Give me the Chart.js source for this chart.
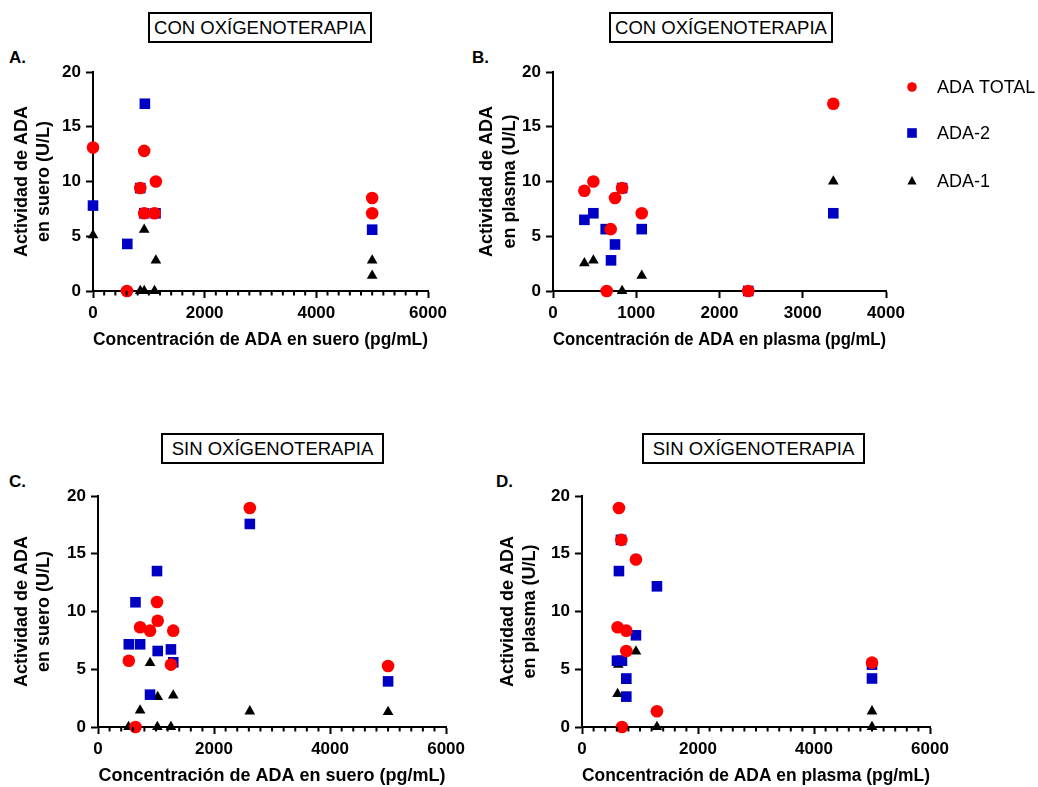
<!DOCTYPE html>
<html>
<head>
<meta charset="utf-8">
<script src="https://cdn.jsdelivr.net/npm/chart.js@4/dist/chart.umd.min.js"></script>
<style>
  body { margin: 0; background: #fff; font-family: "Liberation Sans", Arial, sans-serif; }
  #page { position: relative; width: 1038px; height: 787px; overflow: hidden; }
  canvas { position: absolute; }
  .box { position: absolute; box-sizing: border-box; border: 2px solid #000; height: 31px;
         display: flex; align-items: center; justify-content: center; font-size: 18.5px; color: #000; }
  .letter { position: absolute; font-weight: bold; font-size: 17px; color: #000; }
</style>
</head>
<body>
<div id="page">
  <div class="box" style="left:148px; top:12px; width:224px;">CON OXÍGENOTERAPIA</div>
  <div class="box" style="left:609px; top:12px; width:224px;">CON OXÍGENOTERAPIA</div>
  <div class="box" style="left:161px; top:433px; width:223px;">SIN OXÍGENOTERAPIA</div>
  <div class="box" style="left:642px; top:433px; width:223px;">SIN OXÍGENOTERAPIA</div>
  <div class="letter" style="left:9px; top:48px;">A.</div>
  <div class="letter" style="left:472px; top:48px;">B.</div>
  <div class="letter" style="left:9px; top:472px;">C.</div>
  <div class="letter" style="left:496px; top:472px;">D.</div>
  <canvas id="chartA" width="460" height="310" style="left:0px; top:50px;"></canvas>
  <canvas id="chartB" width="568" height="310" style="left:470px; top:50px;"></canvas>
  <canvas id="chartC" width="470" height="313" style="left:0px; top:474px;"></canvas>
  <canvas id="chartD" width="480" height="313" style="left:480px; top:474px;"></canvas>
</div>
<script>
// series names
const seriesNames = ['ADA TOTAL', 'ADA-2', 'ADA-1'];

// A. con oxigenoterapia, suero
const aTotalX = [0, 608, 917, 846, 917, 1102, 1126, 5000, 5000];
const aTotalY = [13.1, 0, 12.8, 9.4, 7.1, 7.1, 10.0, 8.5, 7.1];
const a2X = [0, 614, 929, 846, 917, 1120, 5000];
const a2Y = [7.8, 4.3, 17.1, 9.4, 7.1, 7.1, 5.6];
const a1X = [0, 917, 1126, 846, 917, 1102, 5000, 5000];
const a1Y = [5.1, 5.6, 2.8, 0, 0, 0, 2.8, 1.4];

// B. con oxigenoterapia, plasma
const bTotalX = [377, 485, 745, 693, 645, 830, 1066, 2345, 3367];
const bTotalY = [9.15, 10.0, 8.5, 5.65, 0, 9.4, 7.1, 0, 17.1];
const b2X = [377, 485, 633, 745, 697, 830, 1066, 2345, 3367];
const b2Y = [6.5, 7.1, 5.65, 4.25, 2.8, 9.4, 5.65, 0, 7.1];
const b1X = [377, 485, 645, 830, 1066, 3367];
const b1Y = [2.55, 2.8, 0, 0, 1.4, 10.0];

// C. sin oxigenoterapia, suero
const cTotalX = [531, 646, 726, 897, 1017, 1029, 1257, 1297, 2617, 5000];
const cTotalY = [5.74, 0, 8.63, 8.34, 10.82, 9.2, 5.4, 8.34, 18.96, 5.28];
const c2X = [531, 726, 646, 1017, 1029, 897, 1257, 1297, 2617, 5000];
const c2Y = [7.16, 7.16, 10.8, 13.5, 6.58, 2.8, 6.72, 5.6, 17.58, 3.95];
const c1X = [526, 726, 897, 1029, 1023, 1257, 1297, 2617, 5000];
const c1Y = [0, 1.44, 5.54, 2.6, 0, 0, 2.74, 1.36, 1.3];

// D. sin oxigenoterapia, plasma
const dTotalX = [637, 678, 930, 614, 764, 764, 689, 1292, 5000];
const dTotalY = [18.96, 16.2, 14.5, 8.63, 8.34, 6.58, 0, 1.36, 5.57];
const d2X = [672, 637, 1292, 930, 603, 689, 764, 764, 5000, 5000];
const d2Y = [16.2, 13.5, 12.18, 7.94, 5.74, 5.74, 4.2, 2.63, 5.4, 4.2];
const d1X = [626, 614, 764, 930, 1292, 5000, 5000];
const d1Y = [5.4, 2.86, 4.0, 6.55, 0, 1.36, 0];

const yTicks = [0, 5, 10, 15, 20];

const FONT = '"Liberation Sans", Arial, sans-serif';
const RED = '#ff0000', BLUE = '#0000c4', BLACK = '#000000';

function pts(xs, ys) {
  return xs.map((x, i) => ({x: x, y: ys[i]}));
}

// small ticks between the labelled ones on the x axis
const minorTicks = {
  id: 'minorTicks',
  afterDraw(chart, args, opts) {
    if (!opts.step) return;
    const x = chart.scales.x, ctx = chart.ctx;
    const y0 = chart.chartArea.bottom;
    ctx.save();
    ctx.strokeStyle = '#000';
    ctx.lineWidth = 2;
    for (let v = opts.step; v < x.max; v += opts.step) {
      if (v % opts.major === 0) continue;
      const px = x.getPixelForValue(v);
      ctx.beginPath();
      ctx.moveTo(px, y0);
      ctx.lineTo(px, y0 + 4.5);
      ctx.stroke();
    }
    ctx.restore();
  }
};

// legend drawn to the right of panel B
const sideLegend = {
  id: 'sideLegend',
  afterDraw(chart, args, opts) {
    if (!opts.show) return;
    const ctx = chart.ctx;
    const colors = [RED, BLUE, BLACK];
    const ys = [37, 83, 131];
    ctx.save();
    seriesNames.forEach((name, i) => {
      const cx = 442, cy = ys[i];
      ctx.fillStyle = colors[i];
      ctx.beginPath();
      if (i === 0) {
        ctx.arc(cx, cy, 4.8, 0, Math.PI * 2);
      } else if (i === 1) {
        ctx.rect(cx - 4.8, cy - 4.8, 9.6, 9.6);
      } else {
        ctx.moveTo(cx, cy - 5);
        ctx.lineTo(cx + 4.6, cy + 3.5);
        ctx.lineTo(cx - 4.6, cy + 3.5);
        ctx.closePath();
      }
      ctx.fill();
      ctx.fillStyle = '#000';
      ctx.font = '18px ' + FONT;
      ctx.textBaseline = 'middle';
      ctx.fillText(name, 467, cy + 1);
    });
    ctx.restore();
  }
};

function makePanel(id, cfg) {
  const canvas = document.getElementById(id);
  const H = canvas.height;
  return new Chart(canvas, {
    type: 'scatter',
    data: {
      datasets: [
        {label: seriesNames[0], data: pts(cfg.tx, cfg.ty), pointStyle: 'circle', pointRadius: 6.3,
         backgroundColor: RED, borderColor: RED, borderWidth: 0, clip: false},
        {label: seriesNames[1], data: pts(cfg.bx, cfg.by), pointStyle: 'rect', pointRadius: 7.5,
         backgroundColor: BLUE, borderColor: BLUE, borderWidth: 0, clip: false},
        {label: seriesNames[2], data: pts(cfg.kx, cfg.ky), pointStyle: 'triangle', pointRadius: 6.2,
         backgroundColor: BLACK, borderColor: BLACK, borderWidth: 0, clip: false}
      ]
    },
    options: {
      responsive: false,
      animation: false,
      events: [],
      layout: {padding: {left: 0, top: cfg.top, right: cfg.right, bottom: 0}},
      plugins: {
        legend: {display: false},
        tooltip: {enabled: false},
        minorTicks: {step: cfg.minor, major: cfg.step},
        sideLegend: {show: !!cfg.legend}
      },
      scales: {
        x: {
          type: 'linear', min: 0, max: cfg.xMax,
          afterFit: s => { s.height = H - cfg.bottom; },
          ticks: {stepSize: cfg.step, color: '#000', padding: 5, maxRotation: 0,
                  callback: v => String(v),
                  font: {family: FONT, size: 17, weight: 'bold'}},
          grid: {drawOnChartArea: false, drawTicks: true, tickLength: 7, tickWidth: 2, tickColor: '#000'},
          border: {display: true, color: '#000', width: 2},
          title: {display: true, text: cfg.xTitle, color: '#000',
                  font: {family: FONT, size: 18, weight: 'bold', lineHeight: 1.2},
                  padding: {top: 0, bottom: cfg.xTitlePad}}
        },
        y: {
          type: 'linear', min: 0, max: 20,
          afterFit: s => { s.width = cfg.left; },
          afterBuildTicks: s => { s.ticks = yTicks.map(v => ({value: v})); },
          ticks: {color: '#000', padding: 5, callback: v => String(v),
                  font: {family: FONT, size: 17, weight: 'bold'}},
          grid: {drawOnChartArea: false, drawTicks: true, tickLength: 7, tickWidth: 2, tickColor: '#000'},
          border: {display: true, color: '#000', width: 2},
          title: {display: true, text: cfg.yTitle, color: '#000',
                  font: {family: FONT, size: 18, weight: 'bold', lineHeight: 1.24},
                  padding: {top: cfg.yTitlePad, bottom: 0}}
        }
      }
    },
    plugins: [minorTicks, sideLegend]
  });
}

makePanel('chartA', {
  tx: aTotalX, ty: aTotalY, bx: a2X, by: a2Y, kx: a1X, ky: a1Y,
  xMax: 6000, step: 2000, minor: 200,
  left: 93, top: 22, right: 32, bottom: 241,
  xTitle: 'Concentración de ADA en suero (pg/mL)', xTitlePad: 9,
  yTitle: ['Actividad de ADA', 'en suero (U/L)'], yTitlePad: 10.5
});

makePanel('chartB', {
  tx: bTotalX, ty: bTotalY, bx: b2X, by: b2Y, kx: b1X, ky: b1Y,
  xMax: 4000, step: 1000, minor: 0,
  left: 83, top: 22, right: 152, bottom: 241,
  xTitle: 'Concentración de ADA en plasma (pg/mL)', xTitlePad: 9,
  yTitle: ['Actividad de ADA', 'en plasma (U/L)'], yTitlePad: 6.3,
  legend: true
});

makePanel('chartC', {
  tx: cTotalX, ty: cTotalY, bx: c2X, by: c2Y, kx: c1X, ky: c1Y,
  xMax: 6000, step: 2000, minor: 200,
  left: 98, top: 22, right: 22, bottom: 253,
  xTitle: 'Concentración de ADA en suero (pg/mL)', xTitlePad: 0,
  yTitle: ['Actividad de ADA', 'en suero (U/L)'], yTitlePad: 10.5
});

makePanel('chartD', {
  tx: dTotalX, ty: dTotalY, bx: d2X, by: d2Y, kx: d1X, ky: d1Y,
  xMax: 6000, step: 2000, minor: 200,
  left: 102, top: 22, right: 30, bottom: 253,
  xTitle: 'Concentración de ADA en plasma (pg/mL)', xTitlePad: 0,
  yTitle: ['Actividad de ADA', 'en plasma (U/L)'], yTitlePad: 17
});
</script>
</body>
</html>
